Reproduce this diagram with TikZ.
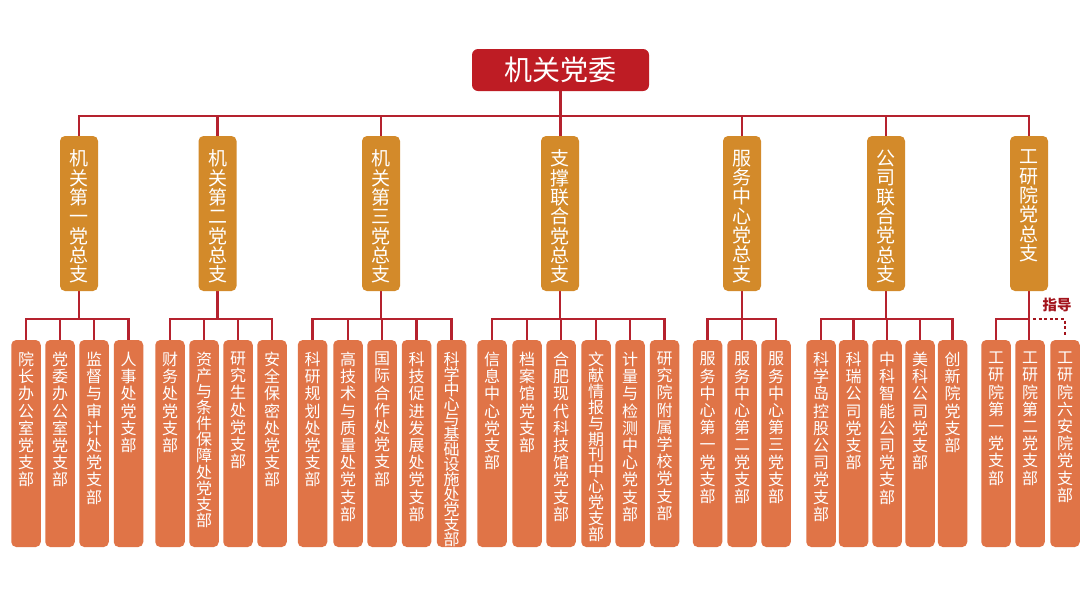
\documentclass[tikz,border=0pt]{standalone}
\usepackage{fontspec}
\setmainfont{Noto Sans CJK SC}
\usetikzlibrary{backgrounds}
\definecolor{topred}{HTML}{BE1C24}
\definecolor{midor}{HTML}{D38A2A}
\definecolor{leafor}{HTML}{E07447}
\definecolor{linered}{HTML}{B5222E}
\definecolor{guide}{HTML}{A3141C}
\newcommand\leaf[4][17.2]{%
  \node[leafbox] (#2) at (#3,443.5) {};
  \node[leaftext,font=\fontsize{16}{#1}\selectfont] (#2t) at ([yshift=-12pt]#2.north) {#4};}
\newcommand\midnode[3]{%
  \node[midbox] (#1) at (#2,213.5) {};
  \node[midtext] (#1t) at ([yshift=-14pt]#1.north) {#3};}
\begin{document}
\setlength{\lineskiplimit}{-100pt}%
\setlength{\lineskip}{0pt}%
\begin{tikzpicture}[x=1pt,y=-1pt,
  conn/.style={draw=linered,line width=2.5pt},
  guideline/.style={draw=guide,line width=2.8pt,dash pattern=on 3pt off 2.6pt},
  topbox/.style={fill=topred,rounded corners=6pt,minimum width=177pt,minimum height=42pt,inner sep=0pt,text=white,font=\fontsize{28}{30}\selectfont},
  midbox/.style={fill=midor,rounded corners=5pt,minimum width=38pt,minimum height=155pt,inner sep=0pt},
  midtext/.style={anchor=north,align=center,inner sep=0pt,text=white,font=\fontsize{19}{19.3}\selectfont},
  leafbox/.style={fill=leafor,rounded corners=5pt,minimum width=29.5pt,minimum height=207pt,inner sep=0pt},
  leaftext/.style={anchor=north,align=center,inner sep=0pt,text=white},
  ]
\useasboundingbox (0,0) rectangle (1091,598);
\coordinate (bus) at (0,116);
\coordinate (b) at (0,319);

\node[topbox] (top) at (560.5,70) {机关党委};

\midnode{t1}{79}{机\\关\\第\\一\\党\\总\\支}
\midnode{t2}{217.5}{机\\关\\第\\二\\党\\总\\支}
\midnode{t3}{381}{机\\关\\第\\三\\党\\总\\支}
\midnode{t4}{560}{支\\撑\\联\\合\\党\\总\\支}
\midnode{t5}{742}{服\\务\\中\\心\\党\\总\\支}
\midnode{t6}{886}{公\\司\\联\\合\\党\\总\\支}
\midnode{t7}{1029}{工\\研\\院\\党\\总\\支}

% group 1
\leaf{c11}{26}{院\\长\\办\\公\\室\\党\\支\\部}
\leaf{c12}{60}{党\\委\\办\\公\\室\\党\\支\\部}
\leaf{c13}{94}{监\\督\\与\\审\\计\\处\\党\\支\\部}
\leaf{c14}{128.5}{人\\事\\处\\党\\支\\部}
% group 2
\leaf{c21}{170}{财\\务\\处\\党\\支\\部}
\leaf[16.1]{c22}{204}{资\\产\\与\\条\\件\\保\\障\\处\\党\\支\\部}
\leaf{c23}{238}{研\\究\\生\\处\\党\\支\\部}
\leaf{c24}{272}{安\\全\\保\\密\\处\\党\\支\\部}
% group 3
\leaf{c31}{312.5}{科\\研\\规\\划\\处\\党\\支\\部}
\leaf{c32}{348}{高\\技\\术\\与\\质\\量\\处\\党\\支\\部}
\leaf{c33}{382}{国\\际\\合\\作\\处\\党\\支\\部}
\leaf{c34}{416.5}{科\\技\\促\\进\\发\\展\\处\\党\\支\\部}
\leaf[15]{c35}{451.5}{科\\学\\中\\心\\与\\基\\础\\设\\施\\处\\党\\支\\部}
% group 4
\leaf{c41}{492}{信\\息\\中\\心\\党\\支\\部}
\leaf{c42}{527}{档\\案\\馆\\党\\支\\部}
\leaf{c43}{561}{合\\肥\\现\\代\\科\\技\\馆\\党\\支\\部}
\leaf[15.9]{c44}{596}{文\\献\\情\\报\\与\\期\\刊\\中\\心\\党\\支\\部}
\leaf{c45}{630}{计\\量\\与\\检\\测\\中\\心\\党\\支\\部}
\leaf{c46}{664.5}{研\\究\\院\\附\\属\\学\\校\\党\\支\\部}
% group 5
\leaf{c51}{707.5}{服\\务\\中\\心\\第\\一\\党\\支\\部}
\leaf{c52}{742}{服\\务\\中\\心\\第\\二\\党\\支\\部}
\leaf{c53}{776}{服\\务\\中\\心\\第\\三\\党\\支\\部}
% group 6
\leaf{c61}{821}{科\\学\\岛\\控\\股\\公\\司\\党\\支\\部}
\leaf{c62}{853.5}{科\\瑞\\公\\司\\党\\支\\部}
\leaf{c63}{887}{中\\科\\智\\能\\公\\司\\党\\支\\部}
\leaf{c64}{920}{美\\科\\公\\司\\党\\支\\部}
\leaf{c65}{952.5}{创\\新\\院\\党\\支\\部}
% group 7
\leaf{c71}{996}{工\\研\\院\\第\\一\\党\\支\\部}
\leaf{c72}{1030}{工\\研\\院\\第\\二\\党\\支\\部}
\leaf{c73}{1065}{工\\研\\院\\六\\安\\院\\党\\支\\部}

\node[text=guide,inner sep=0pt,font=\fontsize{14.5}{14.5}\selectfont\bfseries] (lbl) at (1057,305) {指导};

\begin{scope}[on background layer]
  \fill[white] (0,0) rectangle (1091,598);
  % top level
  \draw[conn] (top.south) -- (top.south |- t4.north);
  \draw[conn] (t1.north) -- (t1.north |- bus) -- (t7.north |- bus) -- (t7.north);
  \foreach \n in {t2,t3,t5,t6}{\draw[conn] (\n.north) -- (\n.north |- bus);}
  % group buses
  \foreach \p/\a/\z in {t1/c11/c14,t2/c21/c24,t3/c31/c35,t4/c41/c46,t5/c51/c53,t6/c61/c65}{
    \draw[conn] (\p.south) -- (\p.south |- b);
    \draw[conn] (\a.north) -- (\a.north |- b) -- (\z.north |- b) -- (\z.north);
  }
  \foreach \n in {c12,c13,c22,c23,c32,c33,c34,c42,c43,c44,c45,c52,c62,c63,c64}{
    \draw[conn] (\n.north) -- (\n.north |- b);}
  % group 7
  \draw[conn] (t7.south) -- (t7.south |- c72.north);
  \draw[conn] (c71.north) -- (c71.north |- b) -- (t7.south |- b);
  \draw[guideline] ([xshift=4pt]t7.south |- b) -- (c73.north |- b) -- ([yshift=4pt]c73.north);
\end{scope}
\end{tikzpicture}
\end{document}
